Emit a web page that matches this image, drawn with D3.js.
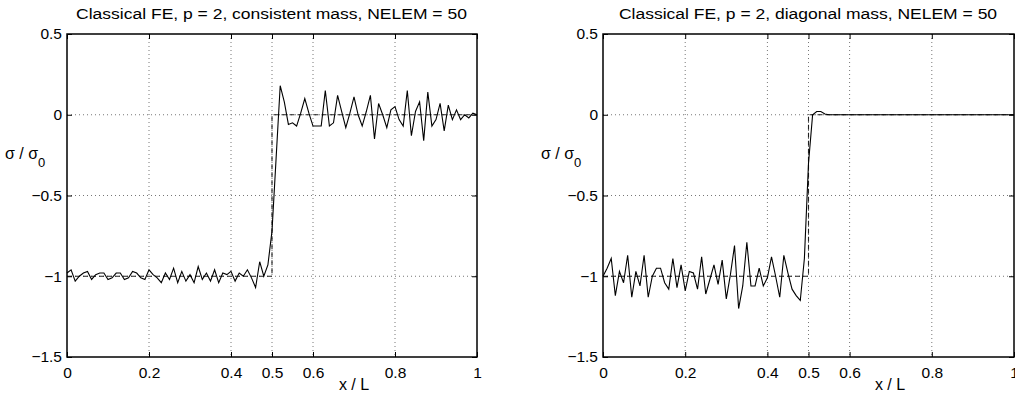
<!DOCTYPE html>
<html>
<head>
<meta charset="utf-8">
<script src="https://cdn.jsdelivr.net/npm/d3@7"></script>
<style>
  body { margin: 0; background: #fff; }
  svg { display: block; }
  text { font-family: "Liberation Sans", Arial, Helvetica, sans-serif; fill: #000; }
</style>
</head>
<body>
<svg width="1015" height="398"></svg>
<script>
// ticks used by both panels
const xTicks = [0, 0.2, 0.4, 0.5, 0.6, 0.8, 1];
const yTicks = [0.5, 0, -0.5, -1, -1.5];
const xGrid = [0.2, 0.4, 0.5, 0.6, 0.8];
const yGrid = [0, -0.5, -1];

// exact (step) solution
const exactX = [0, 0.5, 0.5, 1];
const exactY = [-1, -1, 0, 0];

// stress at the 101 nodes (NELEM = 50, p = 2)
const consistentStress = [
  -0.98, -0.96, -1.03, -1.00, -0.98, -0.97, -1.02, -0.99, -0.98, -0.98,
  -1.02, -1.01, -0.98, -0.98, -1.02, -1.01, -0.97, -0.98, -1.01, -1.02,
  -0.96, -0.99, -1.01, -1.04, -0.98, -1.02, -0.95, -1.04, -0.97, -1.03,
  -0.99, -1.04, -0.94, -1.02, -0.98, -1.03, -0.96, -1.04, -0.98, -0.99,
  -0.97, -1.03, -0.98, -1.00, -0.96, -1.01, -1.07, -0.91, -1.00, -0.93,
  -0.72, -0.27, 0.18, 0.08, -0.06, -0.05, -0.07, 0.01, 0.10, 0.01,
  -0.07, -0.07, -0.07, 0.15, -0.07, -0.05, 0.12, 0.02, -0.08, 0.01,
  0.11, 0.00, -0.07, 0.02, 0.12, -0.15, 0.07, 0.00, -0.08, 0.03,
  0.05, -0.03, -0.07, 0.15, -0.13, 0.02, 0.08, -0.16, 0.14, -0.07,
  -0.03, 0.07, -0.10, 0.06, -0.03, 0.03, -0.03, 0.00, -0.02, 0.01,
  0.00
];
const diagonalStress = [
  -1.00, -0.95, -0.89, -1.12, -0.97, -1.04, -0.87, -1.13, -0.97, -1.06,
  -0.87, -1.13, -1.00, -0.95, -0.95, -1.04, -1.08, -0.89, -1.07, -0.93,
  -1.09, -0.97, -0.98, -1.08, -0.88, -1.11, -1.02, -0.93, -1.05, -0.90,
  -1.14, -0.99, -0.81, -1.20, -1.06, -0.79, -1.06, -1.06, -0.95, -1.06,
  -1.01, -0.88, -1.00, -1.13, -0.87, -0.98, -1.08, -1.12, -1.15, -0.89,
  -0.30, 0.00, 0.02, 0.02, 0.005, 0, 0, 0, 0, 0,
  0, 0, 0, 0, 0, 0, 0, 0, 0, 0,
  0, 0, 0, 0, 0, 0, 0, 0, 0, 0,
  0, 0, 0, 0, 0, 0, 0, 0, 0, 0,
  0, 0, 0, 0, 0, 0, 0, 0, 0, 0,
  0
];
const nodeX = d3.range(101).map(i => i / 100); // element mesh nodes

const panels = [
  {title: 'Classical FE, p = 2, consistent mass, NELEM = 50', values: consistentStress, left: 67, right: 477},
  {title: 'Classical FE, p = 2, diagonal mass, NELEM = 50', values: diagonalStress, left: 603, right: 1014}
];

const plotTop = 34, plotBottom = 357;
const svg = d3.select('svg');
const fmt = d => d === 0 ? '0' : d3.format('')(d);

panels.forEach(p => {
  const x = d3.scaleLinear().domain([0, 1]).range([p.left, p.right]);
  const y = d3.scaleLinear().domain([-1.5, 0.5]).range([plotBottom, plotTop]);
  const g = svg.append('g');

  // dotted grid
  g.append('g').selectAll('line').data(xGrid).enter().append('line')
    .attr('x1', d => x(d)).attr('x2', d => x(d))
    .attr('y1', plotTop).attr('y2', plotBottom)
    .attr('stroke', '#777').attr('stroke-width', 1).attr('stroke-dasharray', '1,3');
  g.append('g').selectAll('line').data(yGrid).enter().append('line')
    .attr('x1', p.left).attr('x2', p.right)
    .attr('y1', d => y(d)).attr('y2', d => y(d))
    .attr('stroke', '#777').attr('stroke-width', 1).attr('stroke-dasharray', '1,3');

  // exact solution, dashed
  const line = d3.line().x(d => x(d[0])).y(d => y(d[1]));
  g.append('path')
    .attr('d', line(exactX.map((v, i) => [v, exactY[i]])))
    .attr('fill', 'none').attr('stroke', '#222').attr('stroke-width', 1.1)
    .attr('stroke-dasharray', '5,3');

  // FE stress
  g.append('path')
    .attr('d', line(nodeX.map((v, i) => [v, p.values[i]])))
    .attr('fill', 'none').attr('stroke', '#000').attr('stroke-width', 1.1)
    .attr('stroke-linejoin', 'miter');

  // axes: inward ticks on all four sides
  const tk = 5;
  g.append('g').attr('transform', `translate(0,${plotBottom})`)
    .call(d3.axisBottom(x).tickValues(xTicks).tickSize(-tk).tickFormat(fmt).tickPadding(10))
    .call(a => a.select('.domain').remove());
  g.append('g').attr('transform', `translate(0,${plotTop})`)
    .call(d3.axisTop(x).tickValues(xTicks).tickSize(-tk).tickFormat(''))
    .call(a => a.select('.domain').remove());
  g.append('g').attr('transform', `translate(${p.left},0)`)
    .call(d3.axisLeft(y).tickValues(yTicks).tickSize(-tk).tickFormat(fmt).tickPadding(5))
    .call(a => a.select('.domain').remove());
  g.append('g').attr('transform', `translate(${p.right},0)`)
    .call(d3.axisRight(y).tickValues(yTicks).tickSize(-tk).tickFormat(''))
    .call(a => a.select('.domain').remove());
  g.selectAll('.tick line').attr('stroke', '#000');
  g.selectAll('.tick text').attr('font-size', 15.5).attr('font-family', '"Liberation Sans", Arial, sans-serif');

  // box
  g.append('rect')
    .attr('x', p.left).attr('y', plotTop)
    .attr('width', p.right - p.left).attr('height', plotBottom - plotTop)
    .attr('fill', 'none').attr('stroke', '#000').attr('stroke-width', 1.5);

  // title (slightly wide lettering, like the original export)
  g.append('text')
    .attr('transform', `translate(${(p.left + p.right) / 2 - 0.5},19) scale(1.13,1)`)
    .attr('text-anchor', 'middle').attr('font-size', 15.5)
    .text(p.title);

  // x label
  g.append('text')
    .attr('x', p.left + 287).attr('y', 390)
    .attr('text-anchor', 'middle').attr('font-size', 16)
    .text('x / L');

  // y label with subscript
  const yl = g.append('text')
    .attr('x', p.left - 62).attr('y', 159)
    .attr('font-size', 16);
  yl.append('tspan').text('σ / σ');
  yl.append('tspan').attr('dy', 8).attr('font-size', 13).text('0');
});
</script>
</body>
</html>
